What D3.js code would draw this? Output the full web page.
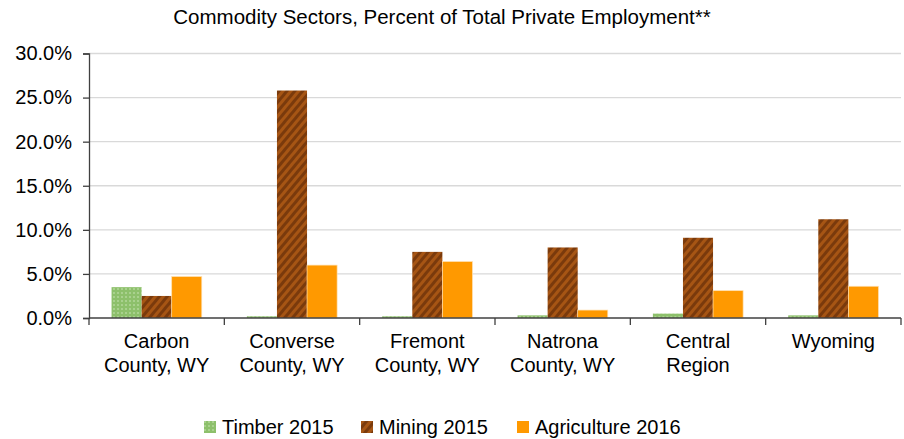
<!DOCTYPE html>
<html>
<head>
<meta charset="utf-8">
<script src="https://cdn.jsdelivr.net/npm/d3@7"></script>
<style>
  html, body { margin: 0; padding: 0; background: #fff; }
  svg { display: block; font-family: "Liberation Sans", Arial, sans-serif; }
</style>
</head>
<body>
<svg id="chart" width="904" height="439"></svg>
<script>
// Commodity sector shares of private employment, by area
const categories = [
  ["Carbon", "County, WY"],
  ["Converse", "County, WY"],
  ["Fremont", "County, WY"],
  ["Natrona", "County, WY"],
  ["Central", "Region"],
  ["Wyoming"]
];
const seriesNames = ["Timber 2015", "Mining 2015", "Agriculture 2016"];
const timber2015 = [0.035, 0.002, 0.002, 0.003, 0.005, 0.003];
const mining2015 = [0.025, 0.258, 0.075, 0.080, 0.091, 0.112];
const agriculture2016 = [0.047, 0.060, 0.064, 0.009, 0.031, 0.036];
const yTicks = [0, 0.05, 0.10, 0.15, 0.20, 0.25, 0.30];
const title = "Commodity Sectors, Percent of Total Private Employment**";

const values = [timber2015, mining2015, agriculture2016];
const fills = ["url(#timberPat)", "url(#miningPat)", "#FF9900"];

const svg = d3.select("#chart");
const margin = { left: 89, right: 3, top: 53.5, bottom: 121 };
const W = 904, H = 439;

// Patterns for the textured series
const defs = svg.append("defs");
const tp = defs.append("pattern").attr("id", "timberPat")
  .attr("patternUnits", "userSpaceOnUse").attr("width", 4).attr("height", 4);
tp.append("rect").attr("width", 4).attr("height", 4).attr("fill", "#8DC06B");
tp.append("rect").attr("x", 0).attr("y", 0).attr("width", 2).attr("height", 2).attr("fill", "#A9D18E");

const mp = defs.append("pattern").attr("id", "miningPat")
  .attr("patternUnits", "userSpaceOnUse").attr("width", 6).attr("height", 6)
  .attr("patternTransform", "rotate(40)");
mp.append("rect").attr("width", 6).attr("height", 6).attr("fill", "#7A3A0C");
mp.append("rect").attr("width", 3).attr("height", 6).attr("fill", "#A65514");

const keys = categories.map(c => c.join(" "));
const x = d3.scaleBand().domain(keys).range([margin.left, W - margin.right]);
const bw = x.bandwidth();
const xInner = d3.scaleBand().domain(seriesNames).range([bw / 6, bw * 5 / 6]);
const y = d3.scaleLinear().domain([0, 0.30]).range([H - margin.bottom, margin.top]);

// Gridlines
svg.append("g").selectAll("line").data(yTicks.filter(t => t > 0)).join("line")
  .attr("x1", margin.left).attr("x2", W - margin.right)
  .attr("y1", d => y(d)).attr("y2", d => y(d))
  .attr("stroke", "#d9d9d9").attr("stroke-width", 1.3);

// Bars
const groups = svg.append("g").selectAll("g").data(keys).join("g")
  .attr("transform", d => `translate(${x(d)},0)`);
groups.each(function (k, i) {
  const g = d3.select(this);
  seriesNames.forEach((s, j) => {
    const v = values[j][i];
    g.append("rect")
      .attr("x", xInner(s)).attr("width", xInner.bandwidth())
      .attr("y", y(v)).attr("height", y(0) - y(v))
      .attr("fill", fills[j])
      .attr("stroke", j === 2 ? "#FFE0B0" : "none")
      .attr("stroke-width", 0.7);
  });
});

// Y axis
const yAxis = d3.axisLeft(y).tickValues(yTicks).tickFormat(d3.format(".1%"))
  .tickSize(6).tickPadding(11);
const gy = svg.append("g").attr("transform", `translate(${margin.left},0)`).call(yAxis);
gy.select(".domain").attr("stroke", "#404040").attr("stroke-width", 1.3);
gy.selectAll(".tick line").attr("stroke", "#404040").attr("stroke-width", 1.3);
gy.selectAll(".tick text").attr("font-size", 20).attr("fill", "#000")
  .attr("font-family", "Liberation Sans, Arial, sans-serif");

// X axis with ticks at category boundaries
svg.append("line")
  .attr("x1", margin.left).attr("x2", W - margin.right)
  .attr("y1", y(0)).attr("y2", y(0))
  .attr("stroke", "#404040").attr("stroke-width", 1.3);
const bounds = keys.map(k => x(k)).concat([x(keys[keys.length - 1]) + bw]);
svg.append("g").selectAll("line").data(bounds).join("line")
  .attr("x1", d => d).attr("x2", d => d)
  .attr("y1", y(0)).attr("y2", y(0) + 7)
  .attr("stroke", "#404040").attr("stroke-width", 1.3);

// Category labels
const lab = svg.append("g").selectAll("text").data(categories).join("text")
  .attr("x", (d, i) => x(keys[i]) + bw / 2)
  .attr("y", 348)
  .attr("text-anchor", "middle").attr("font-size", 20).attr("fill", "#000");
lab.selectAll("tspan").data(d => d).join("tspan")
  .attr("x", function () { return d3.select(this.parentNode).attr("x"); })
  .attr("dy", (d, i) => i === 0 ? 0 : 24)
  .text(d => d);

// Title
svg.append("text").attr("x", 442).attr("y", 24).attr("text-anchor", "middle")
  .attr("font-size", 20.5).attr("fill", "#000").text(title);

// Legend
const legendX = [204, 361, 517];
const leg = svg.append("g").selectAll("g").data(seriesNames).join("g")
  .attr("transform", (d, i) => `translate(${legendX[i]},421)`);
leg.append("rect").attr("width", 12).attr("height", 12).attr("fill", (d, i) => fills[i]);
leg.append("text").attr("x", 18).attr("y", 13).attr("font-size", 20).attr("fill", "#000")
  .text(d => d);
</script>
</body>
</html>
